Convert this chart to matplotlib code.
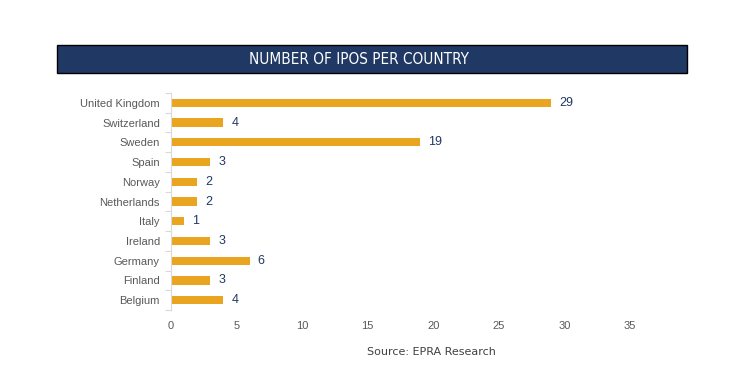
import matplotlib.pyplot as plt
import numpy as np
from matplotlib.patches import Rectangle

countries = ["Belgium", "Finland", "Germany", "Ireland", "Italy", "Netherlands",
             "Norway", "Spain", "Sweden", "Switzerland", "United Kingdom"]
ipos = [4, 3, 6, 3, 1, 2, 2, 3, 19, 4, 29]
x_ticks = [0, 5, 10, 15, 20, 25, 30, 35]

bar_color = "#EAA520"
navy = "#1F3864"

fig = plt.figure(figsize=(7.44, 3.82), dpi=100)
ax = fig.add_axes([171 / 744, 1 - 310 / 382, (630 - 171) / 744, (310 - 93) / 382])

y = np.arange(len(countries))
ax.barh(y, ipos, height=0.42, color=bar_color)
for yi, v in zip(y, ipos):
    ax.text(v + 0.6, yi, str(v), va="center", ha="left", fontsize=9,
            color=navy, family="Liberation Sans")

ax.set_xlim(0, 35)
ax.set_ylim(-0.5, len(countries) - 0.5)
ax.set_xticks(x_ticks)
ax.set_yticks(y)
ax.set_yticklabels(countries)
ax.set_yticks(np.arange(-0.5, len(countries), 1), minor=True)
ax.tick_params(axis="y", which="major", length=0, pad=8, labelsize=8, labelcolor="#595959")
ax.tick_params(axis="y", which="minor", length=4, color="#D9D9D9", width=0.8)
ax.tick_params(axis="x", length=0, pad=8, labelsize=8, labelcolor="#595959")
for lab in ax.get_xticklabels() + ax.get_yticklabels():
    lab.set_family("Liberation Sans")

for s in ["top", "right", "bottom"]:
    ax.spines[s].set_visible(False)
ax.spines["left"].set_color("#D9D9D9")
ax.spines["left"].set_linewidth(0.8)

# title banner
fig.patches.append(Rectangle((57 / 744, 1 - 73 / 382), (687 - 57) / 744, 28 / 382,
                             transform=fig.transFigure, facecolor=navy,
                             edgecolor="black", linewidth=1))
fig.text(359 / 744, 1 - 59 / 382, "NUMBER OF IPOS PER COUNTRY", ha="center", va="center",
         color="white", fontsize=11, family="DejaVu Sans", fontstretch="condensed")

fig.text(431 / 744, 1 - 352 / 382, "Source: EPRA Research", ha="center", va="center",
         color="#404040", fontsize=8, family="DejaVu Sans")

fig.savefig("out.png", dpi=100)
